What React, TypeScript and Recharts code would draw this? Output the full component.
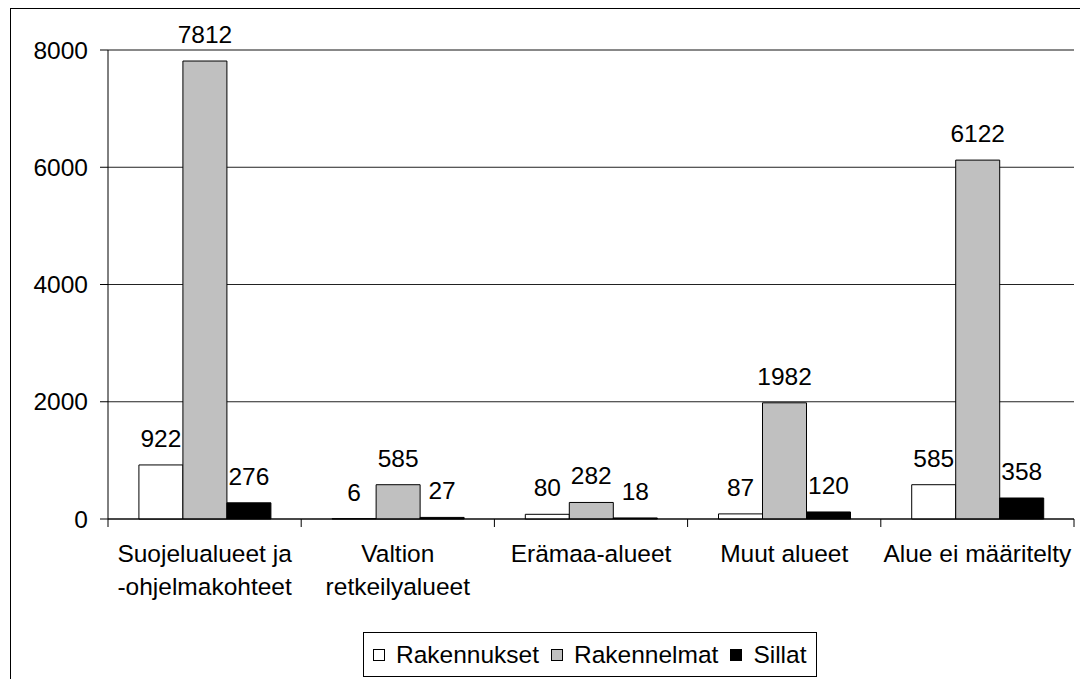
import React from 'react';
import { BarChart, Bar, XAxis, YAxis, CartesianGrid, LabelList, ReferenceLine } from 'recharts';

const categories = [
  'Suojelualueet ja\n-ohjelmakohteet',
  'Valtion\nretkeilyalueet',
  'Erämaa-alueet',
  'Muut alueet',
  'Alue ei määritelty',
];
const rakennukset = [922, 6, 80, 87, 585];
const rakennelmat = [7812, 585, 282, 1982, 6122];
const sillat = [276, 27, 18, 120, 358];
const yTicks = [0, 2000, 4000, 6000, 8000];
const seriesKeys = ['Rakennukset', 'Rakennelmat', 'Sillat'];
const seriesColors = ['#FFFFFF', '#C0C0C0', '#000000'];

const data = categories.map((c, i) => ({
  name: c,
  Rakennukset: rakennukset[i],
  Rakennelmat: rakennelmat[i],
  Sillat: sillat[i],
}));

const FONT = '"Liberation Sans", Arial, sans-serif';
const FS = 24.5;
const W = 1080;
const H = 679;
const MARGIN = { top: 50, right: 6, left: 48, bottom: 100 };
const Y_AXIS_W = 60;
const X_AXIS_H = 60;
const PLOT_W = W - MARGIN.left - Y_AXIS_W - MARGIN.right;

const XTick = (props: any) => {
  const { x, y, payload, index } = props;
  const half = payload && typeof payload.offset === 'number' && payload.offset > 0
    ? payload.offset
    : PLOT_W / categories.length / 2;
  const lines = String(payload.value).split('\n');
  return (
    <g>
      <line x1={x - half} y1={y} x2={x - half} y2={y + 8} stroke="#000" strokeWidth={1} />
      {index === categories.length - 1 && (
        <line x1={x + half} y1={y} x2={x + half} y2={y + 8} stroke="#000" strokeWidth={1} />
      )}
      <text x={x} y={y + 43} textAnchor="middle" fontSize={FS} fontFamily={FONT} fill="#000">
        {lines.map((l, i) => (
          <tspan key={i} x={x} dy={i === 0 ? 0 : 33}>
            {l}
          </tspan>
        ))}
      </text>
    </g>
  );
};

const Legend = () => (
  <div
    style={{
      position: 'absolute',
      left: 363,
      top: 632,
      width: 443,
      height: 43,
      border: '1px solid #000',
      background: '#fff',
      display: 'flex',
      alignItems: 'center',
      paddingLeft: 9,
      boxSizing: 'content-box',
      fontFamily: FONT,
      fontSize: FS,
      color: '#000',
    }}
  >
    {seriesKeys.map((k, i) => (
      <div key={k} style={{ display: 'flex', alignItems: 'center', marginRight: 12 }}>
        <div
          style={{
            width: 10,
            height: 10,
            border: '1px solid #000',
            background: seriesColors[i],
            marginRight: 11,
          }}
        />
        <span style={{ lineHeight: '24px' }}>{k}</span>
      </div>
    ))}
  </div>
);

export default function App() {
  return (
    <div
      style={{
        position: 'absolute',
        left: 0,
        top: 0,
        width: W,
        height: H,
        overflow: 'hidden',
        background: '#fff',
        fontFamily: FONT,
      }}
    >
      <div
        style={{
          position: 'absolute',
          left: 10,
          top: 8,
          width: 1100,
          height: 700,
          border: '1px solid #000',
        }}
      />
      <div style={{ position: 'absolute', left: 0, top: 0 }}>
        <BarChart
          width={W}
          height={H}
          data={data}
          margin={MARGIN}
          barCategoryGap="16%"
          barGap={0}
        >
          <CartesianGrid vertical={false} stroke="#222" />
          <XAxis
            dataKey="name"
            height={X_AXIS_H}
            tickSize={0}
            tickMargin={0}
            tickLine={false}
            axisLine={{ stroke: '#000' }}
            interval={0}
            tick={<XTick />}
          />
          <YAxis
            width={Y_AXIS_W}
            domain={[0, 8000]}
            ticks={yTicks}
            tickSize={8}
            tickMargin={12}
            axisLine={{ stroke: '#000' }}
            tickLine={{ stroke: '#000' }}
            tick={{ fontSize: FS, fill: '#000', fontFamily: FONT }}
            interval={0}
          />
          <YAxis
            yAxisId="right"
            orientation="right"
            width={0}
            domain={[0, 8000]}
            tick={false}
            tickLine={false}
            axisLine={{ stroke: '#808080' }}
          />
          <ReferenceLine y={8000} stroke="#808080" />
          {seriesKeys.map((k, i) => (
            <Bar
              key={k}
              dataKey={k}
              fill={seriesColors[i]}
              stroke="#000"
              strokeWidth={1}
              isAnimationActive={false}
            >
              <LabelList
                dataKey={k}
                position="top"
                offset={18}
                fontSize={FS}
                fill="#000"
                fontFamily={FONT}
              />
            </Bar>
          ))}
        </BarChart>
      </div>
      <Legend />
    </div>
  );
}
